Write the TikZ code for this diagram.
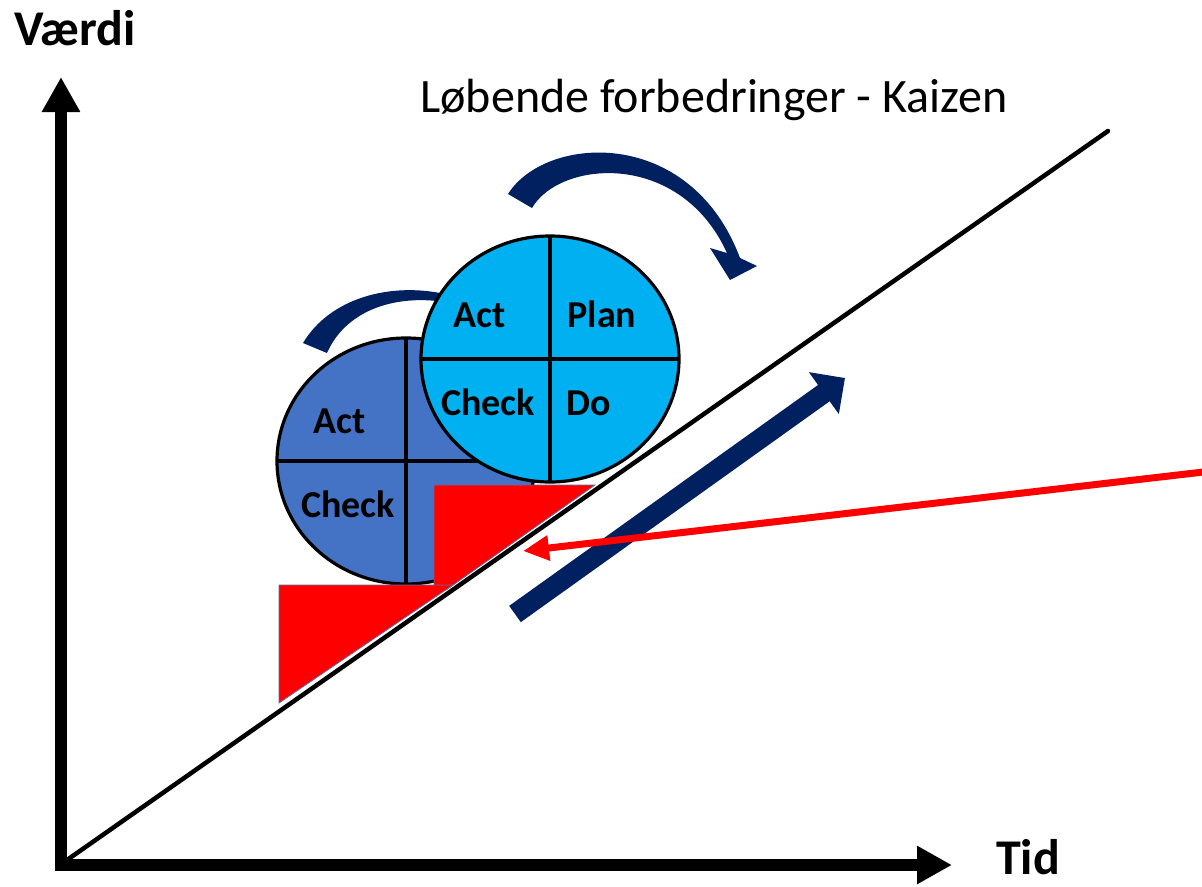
\documentclass[tikz,border=0pt]{standalone}
\usepackage{fontspec}
\setmainfont{Carlito}
\usetikzlibrary{arrows.meta,shapes.geometric}
\definecolor{pdcadark}{HTML}{4472C4}
\definecolor{pdcalight}{HTML}{00B0F0}
\definecolor{navy}{HTML}{002060}
\definecolor{kred}{HTML}{FF0000}
\definecolor{triedge}{HTML}{5B6FA8}
\begin{document}
\begin{tikzpicture}[x=1bp,y=-1bp,
  wheel/.style={ellipse, draw=black, line width=3.2bp, minimum width=258bp, minimum height=246bp, inner sep=0pt, outer sep=0pt},
  divider/.style={draw=black, line width=3.2bp},
  lab/.style={font=\fontsize{38bp}{44bp}\selectfont\bfseries, anchor=base, inner sep=0pt},
  axislbl/.style={font=\fontsize{50bp}{58bp}\selectfont\bfseries, anchor=base west, inner sep=0pt},
  titlelbl/.style={font=\fontsize{48bp}{56bp}\selectfont, anchor=base, inner sep=0pt},
  stair/.style={fill=kred, draw=triedge, line width=0.8bp, line join=miter},
  axisline/.style={line width=12bp, -{Triangle[length=35bp,width=36bp]}},
  navyshape/.style={fill=navy},
  progress/.style={draw=navy, line width=20bp, -{Triangle[length=26bp,width=50bp]}},
  pointer/.style={draw=kred, line width=7bp, -{Triangle[length=26bp,width=24bp]}}
]
\useasboundingbox (0,0) rectangle (1202,887);

% dark PDCA wheel
\node[wheel, fill=pdcadark] (wA) at (406,461) {};
\draw[divider] (wA.north) -- (wA.south);
\draw[divider] (wA.west) -- (wA.east);
\node[lab] (wAact) at (340,433) {Act};
\node[lab] (wAcheck) at (348,517) {Check};

% small rotation arc
\fill[navyshape] (303,343) .. controls (330,298) and (390,282) .. (445,294)
   -- (445,302) .. controls (392,294) and (345,312) .. (327,353) -- cycle;

% light PDCA wheel
\node[wheel, fill=pdcalight] (wB) at (550,359) {};
\draw[divider] (wB.north) -- (wB.south);
\draw[divider] (wB.west) -- (wB.east);
\node[lab] (wBact) at (480,327) {Act};
\node[lab] (wBplan) at (602,327) {Plan};
\node[lab] (wBcheck) at (488,415) {Check};
\node[lab] (wBdo) at (589,415) {Do};

% red stairs (wedges)
\filldraw[stair] (434,485) -- (595,485) -- (446,590) -- (434,590) -- cycle;
\filldraw[stair] (279,585) -- (453,585) -- (279,703) -- cycle;

% axes and trend line
\coordinate (O) at (61,865);
\coordinate (Ytop) at (61,77);
\coordinate (Xend) at (952,865);
\coordinate (Dstart) at (67,860);
\coordinate (Dend) at (1108,131);
\draw[black, line width=4.5bp, line cap=round] (Dstart) -- (Dend);
\draw[axisline] (61,871) -- (Ytop);
\draw[axisline] (55,865) -- (Xend);

% big rotation arrow
\fill[navyshape] (508,194) .. controls (545,135) and (690,125) .. (740,258)
   -- (757,266) -- (730,280) -- (710,248) -- (727,253)
   .. controls (680,150) and (560,160) .. (532,208) -- cycle;

% progress arrow
\coordinate (pA) at (515,614);
\coordinate (pB) at (845,378);
\draw[progress] (pA) -- (pB);

% red pointer
\coordinate (rA) at (1212,471);
\coordinate (rB) at (523,551);
\draw[pointer] (rA) -- (rB);

% labels
\node[axislbl] (yl) at (14,45) {Værdi};
\node[axislbl] (xl) at (996,874) {Tid};
\node[titlelbl] (title) at (714,112) {Løbende forbedringer - Kaizen};
\end{tikzpicture}
\end{document}
